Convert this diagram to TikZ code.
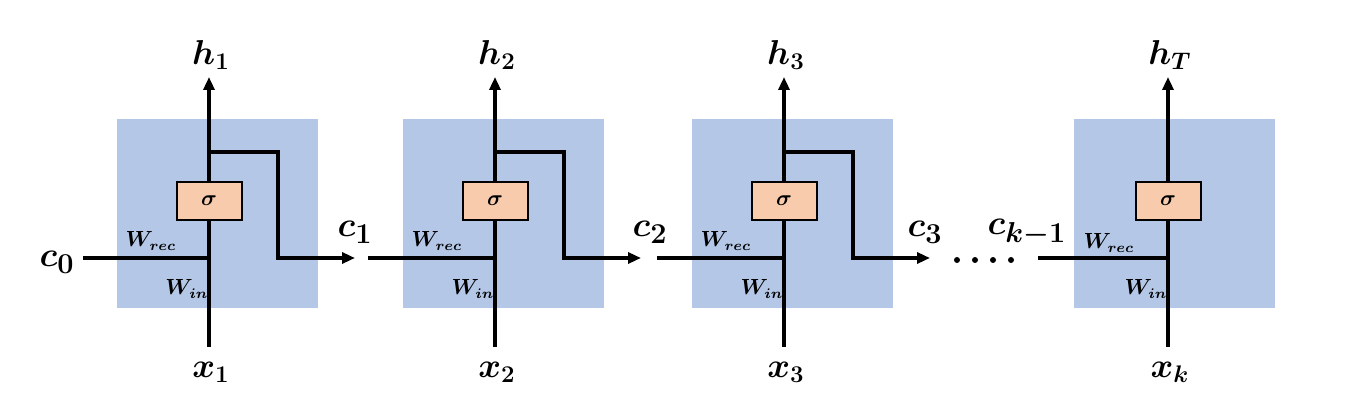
\documentclass[tikz,border=0pt]{standalone}
\usepackage{amsmath,bm}
\usetikzlibrary{arrows.meta}
\definecolor{cellblue}{RGB}{180,199,231}
\definecolor{sigfill}{RGB}{248,203,173}
\begin{document}
\begin{tikzpicture}[x=0.5pt,y=-0.5pt,
 cellbox/.style={fill=cellblue, draw=none, minimum width=100.5pt, minimum height=94.5pt, inner sep=0pt},
 sigbox/.style={draw=black, fill=sigfill, line width=1pt, minimum width=32.5pt, minimum height=19pt, inner sep=0pt, font=\fontsize{11}{12}\selectfont},
 wire/.style={line width=1.6pt},
 arr/.style={wire, -{Triangle[length=6.5pt,width=5.5pt]}},
 hlab/.style={font=\fontsize{17}{19}\selectfont, inner sep=0pt},
 clab/.style={font=\fontsize{19}{21}\selectfont, inner sep=0pt},
 wlab/.style={font=\fontsize{10.5}{12}\selectfont, inner sep=0pt}]
\useasboundingbox (0,0) rectangle (1366,400);

% cells 1..3
\foreach \i/\x in {1/209, 2/495, 3/784} {
  \node[cellbox] (cell\i) at (\x+8.5, 213.5) {};
  \node[sigbox] (sig\i) at (\x, 201) {$\bm{\sigma}$};
  \coordinate (bot\i) at (\x, 347);
  \coordinate (top\i) at (\x, 77);
  \coordinate (join\i) at (\x, 258);
  \coordinate (br\i) at (\x, 152);
  \coordinate (brc\i) at (\x+69, 152);
  \coordinate (brd\i) at (\x+69, 258);
  \coordinate (out\i) at (\x+146, 258);
  \draw[wire] (bot\i) -- (sig\i.south);
  \draw[arr] (sig\i.north) -- (top\i);
  \draw[arr, line join=miter] (br\i) -- (brc\i) -- (brd\i) -- (out\i);
  \node[hlab] (h\i) at (\x+2, 55) {$\bm{h_{\i}}$};
  \node[hlab] (x\i) at (\x+2, 372) {$\bm{x_{\i}}$};
  \node[wlab] (wr\i) at (\x-58, 241) {$\bm{W_{rec}}$};
  \node[wlab] (wi\i) at (\x-22, 289) {$\bm{W_{in}}$};
}

% last cell
\node[cellbox] (cell4) at (1174.5, 213.5) {};
\node[sigbox] (sig4) at (1168, 201) {$\bm{\sigma}$};
\coordinate (bot4) at (1168, 347);
\coordinate (top4) at (1168, 77);
\coordinate (join4) at (1168, 258);
\draw[wire] (bot4) -- (sig4.south);
\draw[arr] (sig4.north) -- (top4);
\node[hlab] (h4) at (1170, 55) {$\bm{h_{T}}$};
\node[hlab] (x4) at (1170, 372) {$\bm{x_{k}}$};
\node[wlab] (wr4) at (1109, 243) {$\bm{W_{rec}}$};
\node[wlab] (wi4) at (1146, 289) {$\bm{W_{in}}$};

% inputs
\coordinate (in1) at (83, 258);
\coordinate (in2) at (368, 258);
\coordinate (in3) at (657, 258);
\coordinate (in4) at (1038, 258);
\foreach \i in {1,2,3,4} { \draw[wire] (in\i) -- (join\i); }

% c labels
\node[clab] (c0) at (57, 262) {$\bm{c_0}$};
\node[clab] (c1) at (355, 232) {$\bm{c_1}$};
\node[clab] (c2) at (650, 232) {$\bm{c_2}$};
\node[clab] (c3) at (925, 232) {$\bm{c_3}$};
\node[clab] (ck) at (1027, 233) {$\bm{c_{k-1}}$};

% dots
\foreach \d in {957, 975, 993, 1011} { \fill (\d, 260) circle (1.5pt); }
\end{tikzpicture}
\end{document}
